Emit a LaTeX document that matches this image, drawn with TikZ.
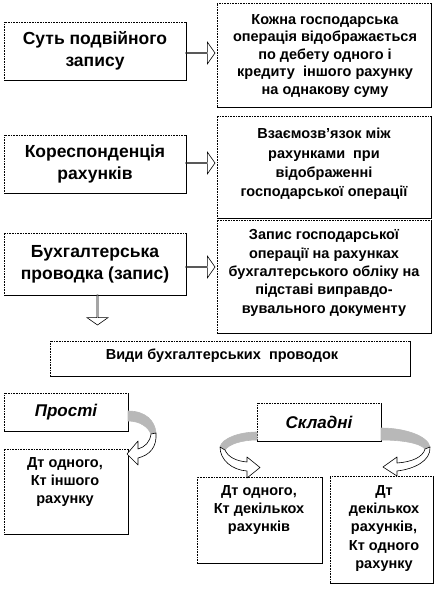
\documentclass[tikz,border=0pt]{standalone}
\usepackage{fontspec}
\setmainfont{Liberation Sans}
\usetikzlibrary{shapes.arrows,calc}
\tikzset{
  box/.style={draw, densely dotted, line width=0.6pt, inner sep=0pt, outer sep=0pt, anchor=north west},
  shadowline/.style={line width=1.6pt, line cap=rect},
  txt/.style={align=center, inner sep=0pt, font=\bfseries},
  bigtxt/.style={txt, font=\fontsize{17.5}{22}\selectfont\bfseries},
  midtxt/.style={txt, font=\fontsize{14.5}{17.5}\selectfont\bfseries},
  hollow/.style={single arrow, draw, fill=white, line width=0.6pt, inner sep=0pt, outer sep=0pt,
    minimum width=22pt, single arrow head extend=5pt, single arrow tip angle=110, anchor=tail},
  ribbon/.style={draw, line width=0.6pt, line join=round},
}
\begin{document}
\begin{tikzpicture}[x=1pt,y=-1pt]
\useasboundingbox (0,0) rectangle (435,589);
% boxes
\node[box, minimum width=182pt, minimum height=58pt] (b1) at (4,22) {};
\node[box, minimum width=214pt, minimum height=104pt] (b2) at (217,3) {};
\node[box, minimum width=182pt, minimum height=58pt] (b3) at (4,135) {};
\node[box, minimum width=214pt, minimum height=102pt] (b4) at (217,116) {};
\node[box, minimum width=182pt, minimum height=62pt] (b5) at (4,233) {};
\node[box, minimum width=214pt, minimum height=113pt] (b6) at (217,220) {};
\node[box, minimum width=360pt, minimum height=35pt] (b7) at (50,341) {};
\node[box, minimum width=124pt, minimum height=38pt] (b8) at (4,393) {};
\node[box, minimum width=124pt, minimum height=85pt] (b9) at (4,449) {};
\node[box, minimum width=124pt, minimum height=38pt] (b10) at (257,403) {};
\node[box, minimum width=125pt, minimum height=86pt] (b11) at (197,477) {};
\node[box, minimum width=103pt, minimum height=107pt] (b12) at (330,476) {};
\foreach \n in {b1,b2,b3,b4,b5,b6,b7,b8,b9,b10,b11,b12}
  \draw[shadowline] ($(\n.north east)+(0.4,1)$) -- ($(\n.south east)+(0.4,0.4)$) -- ($(\n.south west)+(1,0.4)$);
% texts
\node[bigtxt] (t1) at (95,51) {Суть подвійного\\запису};
\node[midtxt] (t2) at (325,56) {Кожна господарська\\операція відображається\\по дебету одного і\\кредиту\ \ іншого рахунку\\на однакову суму};
\node[bigtxt] (t3) at (95,164) {Кореспонденція\\рахунків};
\node[txt, font=\fontsize{14.5}{19.3}\selectfont\bfseries] (t4) at (324,164) {Взаємозв’язок між\\рахунками\ \ при\\відображенні\\господарської операції};
\node[bigtxt] (t5) at (95,264) {Бухгалтерська\\проводка (запис)};
\node[txt, font=\fontsize{14.5}{18.3}\selectfont\bfseries] (t6) at (324,273) {Запис господарської\\операції на рахунках\\бухгалтерського обліку на\\підставі виправдо-\\вувального документу};
\node[txt, font=\fontsize{14.5}{17.5}\selectfont\bfseries] (t7) at (222,356) {Види бухгалтерських\ \ проводок};
\node[txt, font=\fontsize{17}{20}\selectfont\bfseries\itshape] (t8) at (66,412) {Прості};
\node[txt, font=\fontsize{14.5}{18.3}\selectfont\bfseries, anchor=north] (t9) at (65,457) {Дт одного,\\Кт іншого\\рахунку};
\node[txt, font=\fontsize{17}{20}\selectfont\bfseries\itshape] (t10) at (319,422) {Складні};
\node[txt, font=\fontsize{14.5}{18.3}\selectfont\bfseries, anchor=north] (t11) at (259,485) {Дт одного,\\Кт декількох\\рахунків};
\node[txt, font=\fontsize{14.5}{18.3}\selectfont\bfseries, anchor=north] (t12) at (384,485) {Дт\\декількох\\рахунків,\\Кт одного\\рахунку};
% hollow arrows
\node[hollow, minimum height=29pt] (a1) at (b1.east |- 0,53) {};
\node[hollow, minimum height=29pt] (a2) at (b3.east |- 0,163) {};
\node[hollow, minimum height=29pt] (a3) at (b5.east |- 0,267) {};
\node[hollow, minimum height=30pt, minimum width=21pt, single arrow head extend=5pt, shape border rotate=270] (a4) at ($(b5.south)+(2.5,0)$) {};
% curved ribbon arrows
\fill[black!28, ribbon] (128,411) .. controls (146,411) and (155,421) .. (156,433) -- (151,434) .. controls (148,427) and (140,421) .. (128,421) -- cycle;
\filldraw[fill=white, ribbon] (151,434) -- (156,433) .. controls (157,447) and (150,455) .. (138,458) -- (138,465) -- (127,454) -- (138,441) -- (138,449) .. controls (145,447) and (150,442) .. (151,434) -- cycle;
\fill[black!28, ribbon] (257,432) .. controls (240,432) and (222,438) .. (220,447) -- (225,450) .. controls (229,444) and (242,440) .. (257,440) -- cycle;
\filldraw[fill=white, ribbon] (220,447) -- (225,450) .. controls (228,457) and (236,461) .. (247,462) -- (247,457) -- (260,467.5) -- (247,478) -- (247,471) .. controls (232,470) and (220,460) .. (220,447) -- cycle;
\fill[black!28, ribbon] (381,428) .. controls (405,428) and (428,436) .. (430,447) -- (425,449) .. controls (420,443) and (402,440) .. (381,440) -- cycle;
\filldraw[fill=white, ribbon] (425,449) -- (430,447) .. controls (431,461) and (414,469) .. (397,471) -- (397,476) -- (383,467) -- (397,457) -- (397,463) .. controls (412,462) and (423,457) .. (425,449) -- cycle;
\end{tikzpicture}
\end{document}
